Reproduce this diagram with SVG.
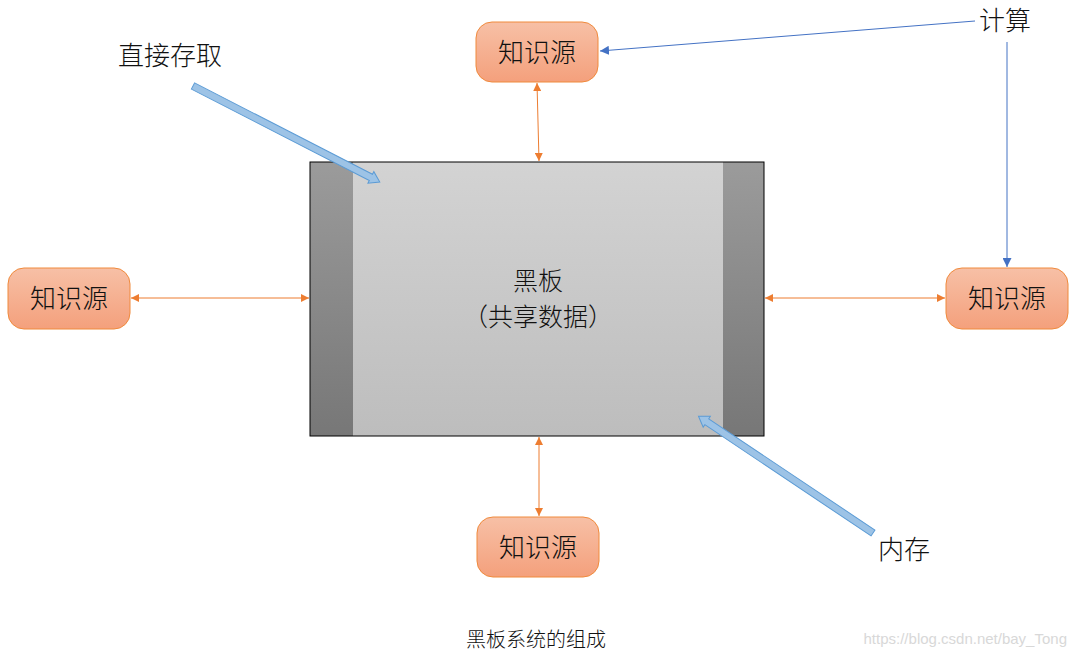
<svg xmlns="http://www.w3.org/2000/svg" width="1076" height="657" viewBox="0 0 1076 657">
<style>
text{font-family:"Noto Sans CJK SC","Liberation Sans",sans-serif;fill:#111;font-weight:300}
.n rect{fill:url(#og);stroke:#f08a3c;stroke-width:1}
.n text{font-size:26px;text-anchor:middle}
.oc{stroke:#ed7d31;stroke-width:1;fill:none;marker-start:url(#oa);marker-end:url(#oa)}
.bc{stroke:#4472c4;stroke-width:1;fill:none;marker-end:url(#ba)}
.blk{fill:#9dc3e6;stroke:#5b9bd5;stroke-width:1}
</style>
<defs>
<linearGradient id="og" x1="0" y1="0" x2="0" y2="1"><stop offset="0" stop-color="#f7c0a6"/><stop offset="1" stop-color="#f4a07c"/></linearGradient>
<linearGradient id="mg" x1="0" y1="0" x2="0" y2="1"><stop offset="0" stop-color="#d3d3d3"/><stop offset="1" stop-color="#bdbdbd"/></linearGradient>
<linearGradient id="sg" x1="0" y1="0" x2="0" y2="1"><stop offset="0" stop-color="#9b9b9b"/><stop offset="1" stop-color="#777"/></linearGradient>
<marker id="oa" viewBox="0 0 10 10" refX="10" refY="5" markerWidth="8" markerHeight="8" orient="auto-start-reverse" markerUnits="userSpaceOnUse"><path d="M0,0L10,5L0,10z" fill="#ed7d31"/></marker>
<marker id="ba" viewBox="0 0 10 10" refX="10" refY="5" markerWidth="9" markerHeight="9" orient="auto" markerUnits="userSpaceOnUse"><path d="M0,0L10,5L0,10z" fill="#4472c4"/></marker>
</defs>
<g id="blackboard">
<rect x="310" y="162" width="454" height="274" fill="url(#mg)"/>
<rect x="310" y="162" width="43" height="274" fill="url(#sg)"/>
<rect x="723" y="162" width="41" height="274" fill="url(#sg)"/>
<rect x="310" y="162" width="454" height="274" fill="none" stroke="#000" stroke-width="1"/>
<text x="538" y="290" font-size="25" text-anchor="middle">黑板</text>
<text x="538" y="326" font-size="25" text-anchor="middle">（共享数据）</text>
</g>
<g id="ks-top" class="n"><rect x="476" y="22" width="122" height="60" rx="16"/><text x="537" y="62">知识源</text></g>
<g id="ks-left" class="n"><rect x="8" y="268" width="122" height="61" rx="16"/><text x="69" y="308">知识源</text></g>
<g id="ks-right" class="n"><rect x="946" y="268" width="122" height="61" rx="16"/><text x="1007" y="308">知识源</text></g>
<g id="ks-bottom" class="n"><rect x="477" y="517" width="122" height="60" rx="16"/><text x="538" y="557">知识源</text></g>
<g id="connectors">
<line class="oc" x1="537" y1="83" x2="539" y2="161"/>
<line class="oc" x1="131" y1="298" x2="309" y2="298"/>
<line class="oc" x1="765" y1="298" x2="945" y2="298"/>
<line class="oc" x1="539" y1="437" x2="539" y2="516"/>
<line class="bc" x1="975" y1="21" x2="600" y2="51"/>
<line class="bc" x1="1007" y1="42" x2="1007" y2="267"/>
<polygon class="blk" transform="translate(193,86) rotate(27.2)" points="0,-3.5 200,-3.5 200,-6.5 210,0 200,6.5 200,3.5 0,3.5"/>
<polygon class="blk" transform="translate(873,533) rotate(213.8)" points="0,-3.5 200,-3.5 200,-6.5 210,0 200,6.5 200,3.5 0,3.5"/>
</g>
<text x="118" y="65" font-size="26">直接存取</text>
<text x="979" y="30" font-size="26">计算</text>
<text x="878" y="559" font-size="26">内存</text>
<text x="536" y="647" font-size="20" text-anchor="middle">黑板系统的组成</text>
<text x="1067" y="644" font-size="15" text-anchor="end" style="fill:#d8d8d8;font-family:'Liberation Sans',sans-serif">https://blog.csdn.net/bay_Tong</text>
</svg>
